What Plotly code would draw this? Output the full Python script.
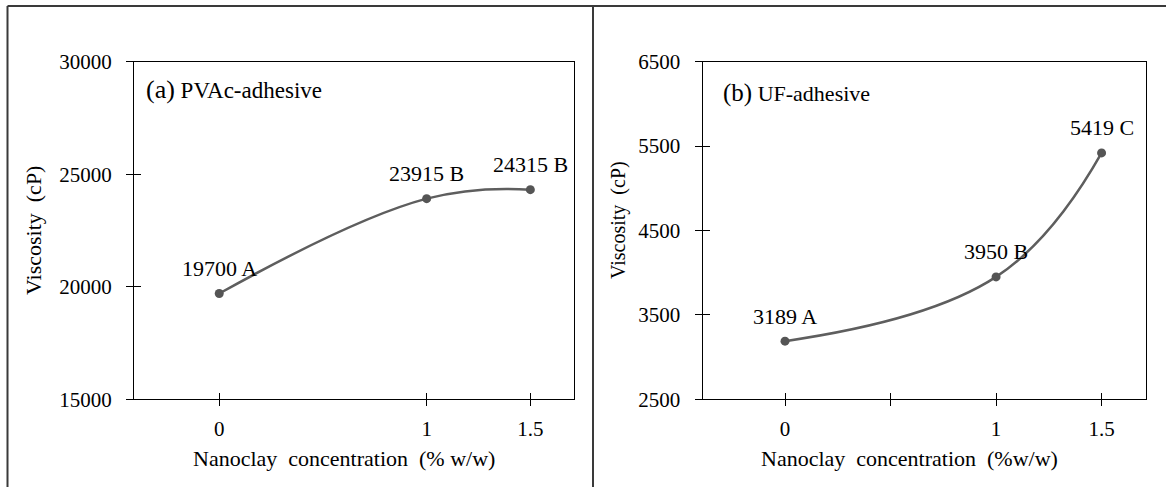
import plotly.graph_objects as go

# ---- data ----
conc_a = [0, 1, 1.5]
visc_a = [19700, 23915, 24315]
grp_a = ["A", "B", "B"]

conc_b = [0, 1, 1.5]
visc_b = [3189, 3950, 5419]
grp_b = ["A", "B", "C"]

xtick_a = [0, 1, 1.5]
xtick_a_text = ["0", "1", "1.5"]
xtick_b = [0, 0.5, 1, 1.5]
xtick_b_text = ["0", "", "1", "1.5"]

ytick_a = [15000, 20000, 25000, 30000]
ytick_b = [2500, 3500, 4500, 5500, 6500]

W, H = 1166, 487
FONT = "Liberation Serif"
LINE_C = "#5e5e5e"
MARK_C = "#555555"

def px(v):
    return v / W

def py(v):
    return 1 - v / H

dom_a = [px(134), px(573.5)]
dom_b = [px(702.7), px(1145.7)]
dom_y = [py(399.3), py(61.7)]

xr_a = [-0.411, 1.708]
xr_b = [-0.39, 1.709]
yr_a = [15000, 30000]
yr_b = [2500, 6500]

fig = go.Figure()

for xs, ys, xa, ya in [(conc_a, visc_a, "x", "y"), (conc_b, visc_b, "x2", "y2")]:
    fig.add_trace(go.Scatter(
        x=xs, y=ys, xaxis=xa, yaxis=ya, mode="lines+markers",
        line=dict(shape="spline", smoothing=1.2, color=LINE_C, width=2.5),
        marker=dict(size=9, color=MARK_C),
        showlegend=False, hoverinfo="skip"))

# dummy invisible traces to carry the inner-tick overlay axes
for xs, ys, xa, ya in [(conc_a, visc_a, "x3", "y3"), (conc_b, visc_b, "x4", "y4")]:
    fig.add_trace(go.Scatter(x=[xs[0]], y=[ys[0]], xaxis=xa, yaxis=ya, mode="markers",
                             marker=dict(opacity=0), showlegend=False, hoverinfo="skip"))

tickfont = dict(family=FONT, size=21, color="black")

def main_x(dom, rng, tv, tt, anchor):
    return dict(domain=dom, range=rng, anchor=anchor, tickmode="array", tickvals=tv, ticktext=tt,
                ticks="outside", ticklen=6, tickwidth=1.3, tickcolor="black",
                showline=True, linecolor="black", linewidth=1.3, mirror=True, automargin=False,
                showgrid=False, zeroline=False, tickfont=tickfont, ticklabelstandoff=4)

def main_y(dom, rng, tv, anchor):
    return dict(domain=dom, range=rng, anchor=anchor, tickmode="array", tickvals=tv,
                ticktext=[str(v) for v in tv],
                ticks="outside", ticklen=7, tickwidth=1.3, tickcolor="black",
                showline=True, linecolor="black", linewidth=1.3, mirror=True, automargin=False,
                showgrid=False, zeroline=False, tickfont=tickfont, ticklabelstandoff=10)

def over_x(over, rng, tv, anchor):
    return dict(overlaying=over, range=rng, anchor=anchor, tickmode="array", tickvals=tv,
                ticks="inside", ticklen=6, tickwidth=1.3, tickcolor="black", automargin=False,
                showticklabels=False, showline=False, showgrid=False, zeroline=False, side="bottom")

def over_y(over, rng, tv, anchor):
    return dict(overlaying=over, range=rng, anchor=anchor, tickmode="array", tickvals=tv,
                ticks="inside", ticklen=7, tickwidth=1.3, tickcolor="black", automargin=False,
                showticklabels=False, showline=False, showgrid=False, zeroline=False, side="left")

fig.update_layout(
    width=W, height=H, margin=dict(l=0, r=0, t=0, b=0, autoexpand=False),
    paper_bgcolor="white", plot_bgcolor="white",
    font=dict(family=FONT, color="black"),
    xaxis=main_x(dom_a, xr_a, xtick_a, xtick_a_text, "y"),
    yaxis=main_y(dom_y, yr_a, ytick_a, "x"),
    xaxis2=main_x(dom_b, xr_b, xtick_b, xtick_b_text, "y2"),
    yaxis2=main_y(dom_y, yr_b, ytick_b, "x2"),
    xaxis3=over_x("x", xr_a, xtick_a, "y3"),
    yaxis3=over_y("y", yr_a, ytick_a, "x3"),
    xaxis4=over_x("x2", xr_b, xtick_b, "y4"),
    yaxis4=over_y("y2", yr_b, ytick_b, "x4"),
)

ann = []
# data labels
for xs, ys, gs, xa, ya in [(conc_a, visc_a, grp_a, "x", "y"), (conc_b, visc_b, grp_b, "x2", "y2")]:
    for xv, yv, g in zip(xs, ys, gs):
        ann.append(dict(x=xv, y=yv, xref=xa, yref=ya, text=f"{yv} {g}", showarrow=False,
                        xanchor="center", yanchor="middle", yshift=25,
                        font=dict(family=FONT, size=22, color="black")))

# panel titles
ann.append(dict(x=px(144), y=py(89), xref="paper", yref="paper", xanchor="left", yanchor="middle",
                showarrow=False, text="<span style='font-size:26px'>(a)</span> PVAc-adhesive",
                font=dict(family=FONT, size=23, color="black")))
ann.append(dict(x=px(721), y=py(93), xref="paper", yref="paper", xanchor="left", yanchor="middle",
                showarrow=False, text="<span style='font-size:25px'>(b)</span> UF-adhesive",
                font=dict(family=FONT, size=22, color="black")))

# axis titles
ann.append(dict(x=px(343.5), y=py(458), xref="paper", yref="paper", xanchor="center", yanchor="middle",
                showarrow=False, text="Nanoclay&nbsp; concentration&nbsp; (% w/w)",
                font=dict(family=FONT, size=22, color="black")))
ann.append(dict(x=px(910), y=py(458), xref="paper", yref="paper", xanchor="center", yanchor="middle",
                showarrow=False, text="Nanoclay&nbsp; concentration&nbsp; (%w/w)",
                font=dict(family=FONT, size=22, color="black")))
ann.append(dict(x=px(33), y=py(231), xref="paper", yref="paper", xanchor="center", yanchor="middle",
                showarrow=False, textangle=-90, text="Viscosity&nbsp; (cP)",
                font=dict(family=FONT, size=22, color="black")))
ann.append(dict(x=px(618), y=py(220), xref="paper", yref="paper", xanchor="center", yanchor="middle",
                showarrow=False, textangle=-90, text="Viscosity&nbsp; (cP)",
                font=dict(family=FONT, size=20, color="black")))
fig.update_layout(annotations=ann)

# outer frame lines
frame_c = "#3a3a3a"
fig.update_layout(shapes=[
    dict(type="line", xref="paper", yref="paper", x0=px(7.5), x1=1, y0=py(6), y1=py(6),
         line=dict(color=frame_c, width=2)),
    dict(type="line", xref="paper", yref="paper", x0=px(7.5), x1=px(7.5), y0=py(6), y1=0,
         line=dict(color=frame_c, width=2)),
    dict(type="line", xref="paper", yref="paper", x0=px(593), x1=px(593), y0=py(6), y1=0,
         line=dict(color=frame_c, width=2)),
])

fig.write_html("out.html")
